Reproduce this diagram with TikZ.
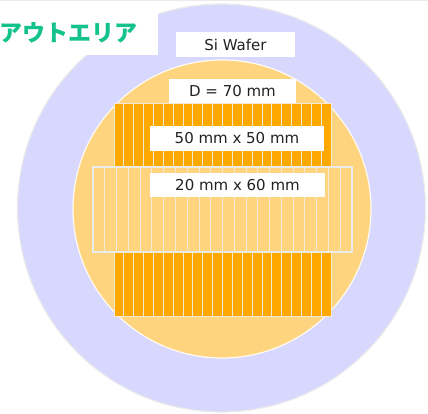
\documentclass[tikz,border=0pt]{standalone}
\usepackage{fontspec}
\setmainfont{DejaVu Sans}
\newfontfamily\jpfont{Noto Sans CJK JP}
\definecolor{lav}{HTML}{D8D8FF}
\definecolor{edgec}{HTML}{EBEBEB}
\definecolor{inner}{HTML}{FFD47F}
\definecolor{orng}{HTML}{FFA800}
\definecolor{stripln}{HTML}{F3E9D6}
\definecolor{grn}{HTML}{14C28C}
\definecolor{txt}{HTML}{222222}
\tikzset{
  lbl/.style={fill=white, inner sep=0pt, text=txt, font=\fontsize{15}{18}\selectfont},
  stripA/.style={fill=orng, draw=stripln, line width=0.9pt},
  stripB/.style={fill=inner, draw=stripln, line width=0.9pt},
}
\begin{document}
\begin{tikzpicture}[x=1pt,y=-1pt]
\useasboundingbox (0,0) rectangle (428,414);
% top border line
\coordinate (tl) at (0,0.6);
\coordinate (tr) at (428,0.6);
\draw[edgec, line width=1.2pt] (tl) -- (tr);
% wafer rings
\filldraw[fill=lav, draw=edgec, line width=1.2pt] (221.5,208) circle[radius=204pt];
\filldraw[fill=inner, draw=white!90!inner, line width=1.2pt] (222,209) circle[radius=149pt];
% 50 x 50 block
\foreach \i in {0,...,21}
  \filldraw[stripA] ({114+\i*9.864},103) rectangle ++(9.864,213);
% 20 x 60 block
\foreach \i in {0,...,21}
  \filldraw[stripB] ({93+\i*11.773},167) rectangle ++(11.773,85);
\draw[edgec, line width=1.8pt] (93,167) rectangle (352,252);
% labels
\node[fill=white, inner sep=0pt, minimum width=158pt, minimum height=53pt, anchor=north west] (outbox) at (0,2) {};
\node[anchor=east, inner sep=0pt, text=grn, font=\jpfont\bfseries\fontsize{23}{26}\selectfont] (out) at (138,33) {アウトエリア};
\node[lbl, minimum width=119pt, minimum height=25pt] (si) at (235.5,44.5) {Si Wafer};
\node[lbl, minimum width=127pt, minimum height=24pt] (dia) at (232.5,91) {D = 70 mm};
\node[lbl, minimum width=174pt, minimum height=25pt] (sq) at (237,138.5) {50 mm x 50 mm};
\node[lbl, minimum width=175pt, minimum height=24pt] (rc) at (237.5,185) {20 mm x 60 mm};
\end{tikzpicture}
\end{document}
